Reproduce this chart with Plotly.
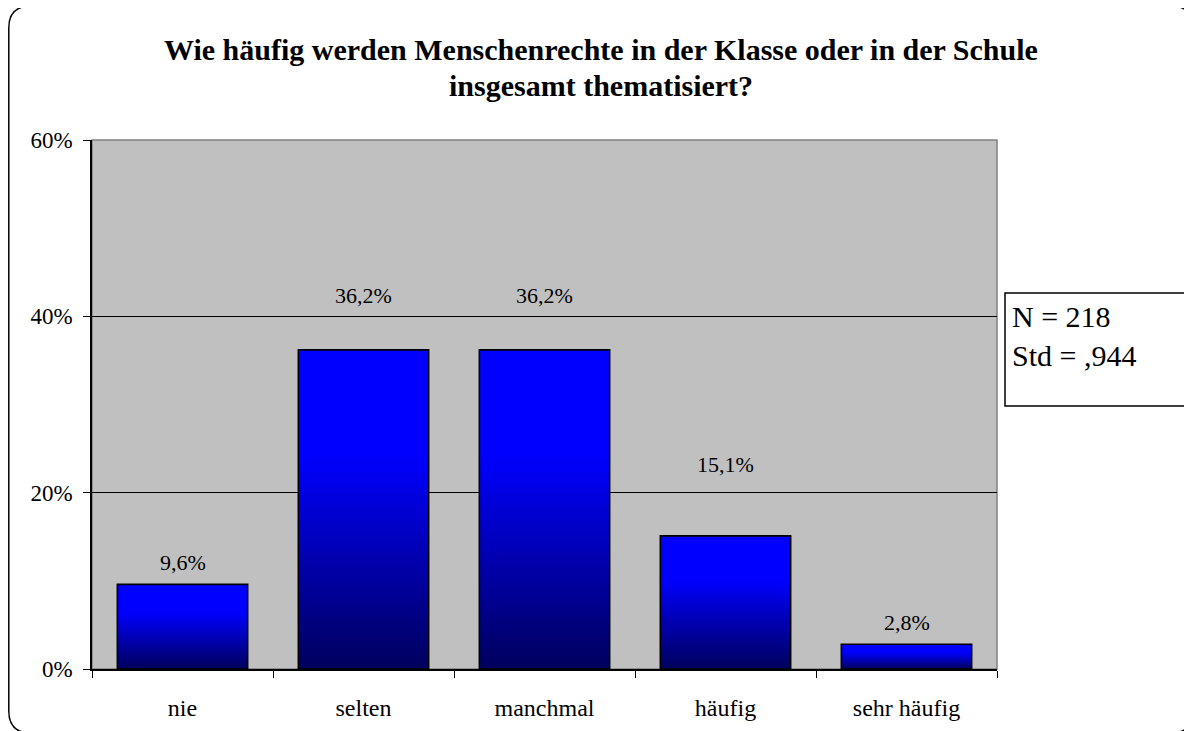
import plotly.graph_objects as go

# ---- data ----
categories = ["nie", "selten", "manchmal", "häufig", "sehr häufig"]
values = [9.6, 36.2, 36.2, 15.1, 2.8]
value_labels = ["9,6%", "36,2%", "36,2%", "15,1%", "2,8%"]
y_tickvals = [0, 20, 40, 60]
y_ticktext = ["0%", "20%", "40%", "60%"]
title_lines = ["Wie häufig werden Menschenrechte in der Klasse oder in der Schule",
               "insgesamt thematisiert?"]
stats_lines = ["N = 218", "Std = ,944"]

# ---- layout geometry (target window pixels; page body has 8px margin) ----
OFF = 8
W, H = 1192 - OFF, 731 - OFF
L, T = 92 - OFF, 140 - OFF
PLOT_RIGHT, PLOT_BOTTOM = 997 - OFF, 669 - OFF
R, B = W - PLOT_RIGHT, H - PLOT_BOTTOM
PW, PH = W - L - R, H - T - B
FONT = "Liberation Serif, Times New Roman, serif"


def px(x):
    return (x - OFF - L) / PW


def py(y):
    return (PLOT_BOTTOM - (y - OFF)) / PH


fig = go.Figure()

# gradient bars: overlaid bars of decreasing height, tallest (brightest) first
N = 60
for k in range(N, 0, -1):
    t = k / N
    b = int(round(90 + 165 * min(1.0, t / 0.68)))
    fig.add_trace(go.Bar(
        x=categories, y=[v * t for v in values],
        width=0.72, marker=dict(color=f"rgb(0,0,{b})", line=dict(width=0)),
        hoverinfo="skip", showlegend=False))
# outline
fig.add_trace(go.Bar(
    x=categories, y=values, width=0.72,
    marker=dict(color="rgba(0,0,0,0)", line=dict(color="black", width=1.6)),
    showlegend=False, hovertemplate="%{x}: %{y}%<extra></extra>"))

# data labels (offset above bar tops, in pixels)
label_shift = [22, 54, 54, 71, 22]
for c, v, lab, s in zip(categories, values, value_labels, label_shift):
    fig.add_annotation(x=c, y=v, text=lab, showarrow=False, yanchor="middle",
                       yshift=s, font=dict(family=FONT, size=22, color="black"))

# title
for i, line in enumerate(title_lines):
    fig.add_annotation(xref="paper", yref="paper", x=px(601), y=py(50 + 36 * i),
                       text=line, showarrow=False, xanchor="center", yanchor="middle",
                       font=dict(family=FONT, size=30, color="black", weight="bold"))

# stats box
fig.add_shape(type="rect", xref="paper", yref="paper",
              x0=px(1005), x1=px(1215), y0=py(293), y1=py(406),
              line=dict(color="black", width=1.5), fillcolor="white", layer="above")
for i, s in enumerate(stats_lines):
    fig.add_annotation(xref="paper", yref="paper", x=px(1010), y=py(316 + 39 * i),
                       text=s, showarrow=False, xanchor="left", yanchor="middle",
                       font=dict(family=FONT, size=30, color="black"))

# plot-area border (gray)
fig.add_shape(type="rect", xref="paper", yref="paper", x0=0, x1=1, y0=0, y1=1,
              line=dict(color="#808080", width=1.5), layer="below")

# rounded outer frame (right and bottom edges run just off the page)
x0, y0, x1, y1, r = 8.8, 6, 1193, 733, 22
path = (f"M {px(x0 + r)},{py(y0)} L {px(x1 - r)},{py(y0)} "
        f"Q {px(x1)},{py(y0)} {px(x1)},{py(y0 + r)} "
        f"L {px(x1)},{py(y1 - r)} Q {px(x1)},{py(y1)} {px(x1 - r)},{py(y1)} "
        f"L {px(x0 + r)},{py(y1)} Q {px(x0)},{py(y1)} {px(x0)},{py(y1 - r)} "
        f"L {px(x0)},{py(y0 + r)} Q {px(x0)},{py(y0)} {px(x0 + r)},{py(y0)} Z")
fig.add_shape(type="path", xref="paper", yref="paper", path=path,
              line=dict(color="black", width=1.5))

fig.update_layout(
    width=W, height=H,
    margin=dict(l=L, r=R, t=T, b=B, autoexpand=False),
    paper_bgcolor="white", plot_bgcolor="#C0C0C0",
    barmode="overlay", bargap=0.28,
    showlegend=False,
    font=dict(family=FONT, color="black"),
)
fig.update_xaxes(
    type="category", showgrid=False, showline=True, linecolor="black", linewidth=1.5,
    ticks="outside", ticklen=7, tickcolor="black", tickson="boundaries",
    tickfont=dict(family=FONT, size=24), ticklabelstandoff=16,
)
fig.update_yaxes(
    range=[0, 60], tickvals=y_tickvals, ticktext=y_ticktext,
    showgrid=True, gridcolor="black", gridwidth=1,
    showline=True, linecolor="black", linewidth=1.5,
    ticks="outside", ticklen=7, tickcolor="black",
    tickfont=dict(family=FONT, size=23), ticklabelstandoff=6,
    zeroline=False,
)

fig.write_html("out.html")
